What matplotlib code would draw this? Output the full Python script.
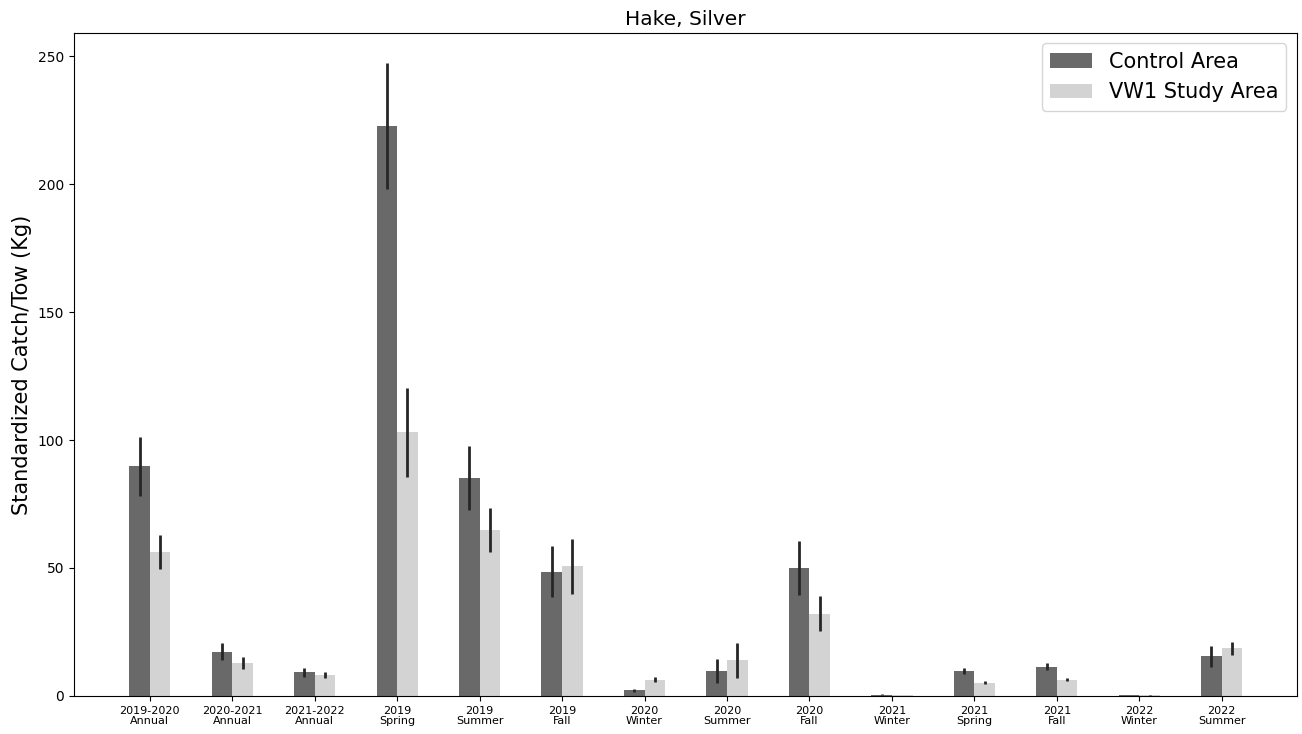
import matplotlib
matplotlib.use("Agg")
import matplotlib.pyplot as plt
import numpy as np

categories = ["2019-2020\nAnnual", "2020-2021\nAnnual", "2021-2022\nAnnual",
              "2019\nSpring", "2019\nSummer", "2019\nFall",
              "2020\nWinter", "2020\nSummer", "2020\nFall",
              "2021\nWinter", "2021\nSpring", "2021\nFall",
              "2022\nWinter", "2022\nSummer"]

control_mean = [89.7, 17.3, 9.3, 222.7, 85.2, 48.6, 2.2, 9.8, 50.0, 0.5, 9.8, 11.4, 0.4, 15.5]
control_err = [11.6, 3.4, 1.7, 24.7, 12.4, 10.0, 0.7, 4.6, 10.4, 0.2, 1.2, 1.4, 0.1, 4.0]

study_mean = [56.3, 12.8, 8.2, 103.0, 64.9, 50.7, 6.3, 14.0, 32.1, 0.3, 5.2, 6.4, 0.2, 18.6]
study_err = [6.5, 2.4, 1.2, 17.4, 8.7, 10.8, 1.0, 6.8, 6.8, 0.1, 0.7, 0.7, 0.1, 2.6]

series_names = ["Control Area", "VW1 Study Area"]
series_colors = ["#696969", "#d3d3d3"]

fig = plt.figure(figsize=(13.02, 7.34), dpi=100)
ax = fig.add_axes([0.0568, 0.0518, 0.9392, 0.9032])

x = np.arange(len(categories))
width = 0.25
err_kw = dict(ecolor="#262626", elinewidth=2, capsize=0)

ax.bar(x - width / 2, control_mean, width, yerr=control_err,
       color=series_colors[0], label=series_names[0], error_kw=err_kw)
ax.bar(x + width / 2, study_mean, width, yerr=study_err,
       color=series_colors[1], label=series_names[1], error_kw=err_kw)

ax.set_xticks(x)
ax.set_xticklabels(categories, fontsize=8, linespacing=1.0)
ax.tick_params(axis="y", labelsize=10)
ax.set_xlim(-0.92, 13.91)
ax.set_ylim(0, 259)
ax.set_yticks([0, 50, 100, 150, 200, 250])

ax.set_title("Hake, Silver", fontsize=14.5)
ax.set_ylabel("Standardized Catch/Tow (Kg)", fontsize=15)
ax.legend(loc="upper right", fontsize=15)

fig.savefig("out.png", dpi=100)
